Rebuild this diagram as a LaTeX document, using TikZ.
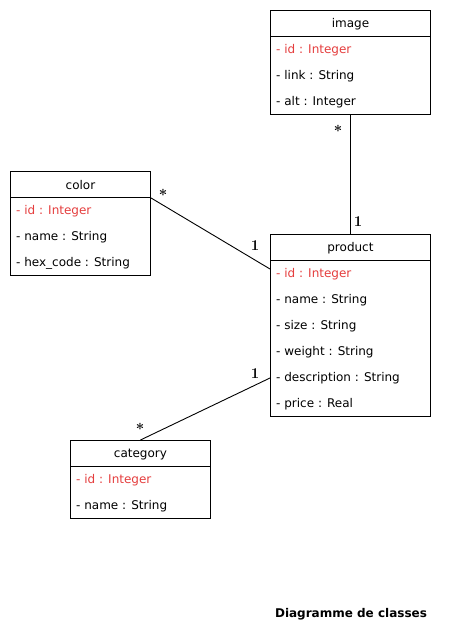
\documentclass[tikz,border=0pt]{standalone}
\usepackage{fontspec}
\setmainfont{DejaVu Sans}
\newfontfamily\multfont{Latin Modern Roman}
\usetikzlibrary{calc}
\definecolor{keyred}{HTML}{E53E3E}
\tikzset{
  classhead/.style={draw, line width=0.9pt, anchor=north west, inner sep=0pt},
  classbody/.style={draw, line width=0.9pt, anchor=north west, inner sep=0pt},
  classname/.style={inner sep=0pt, font=\fontsize{12}{14}\selectfont},
  attr/.style={anchor=west, inner sep=0pt, font=\fontsize{12}{14}\selectfont},
  keyattr/.style={attr, text=keyred},
  mult/.style={inner sep=0pt, font=\multfont\bfseries\fontsize{15}{17}\selectfont},
  assoc/.style={line width=0.9pt},
}
\begin{document}
\begin{tikzpicture}[x=1pt,y=-1pt]
\useasboundingbox (0,0) rectangle (466,635);
\fill[white] (0,0) rectangle (466,635);

% image
\node[classhead, minimum width=160pt, minimum height=26pt] (imgH) at (270,10) {};
\node[classname] (imgN) at ($(imgH.center)+(0,1)$) {image};
\node[classbody, minimum width=160pt, minimum height=78pt] (imgB) at (270,36) {};
\node[keyattr] (img1) at (276,50) {- id : Integer};
\node[attr] (img2) at (276,76) {- link : String};
\node[attr] (img3) at (276,102) {- alt : Integer};

% color
\node[classhead, minimum width=140pt, minimum height=26pt] (colH) at (10,171) {};
\node[classname] (colN) at ($(colH.center)+(0,1)$) {color};
\node[classbody, minimum width=140pt, minimum height=78pt] (colB) at (10,197) {};
\node[keyattr] (col1) at (16,211) {- id : Integer};
\node[attr] (col2) at (16,237) {- name : String};
\node[attr] (col3) at (16,263) {- hex\_code : String};

% product
\node[classhead, minimum width=160pt, minimum height=26pt] (proH) at (270,234) {};
\node[classname] (proN) at ($(proH.center)+(0,1)$) {product};
\node[classbody, minimum width=160pt, minimum height=156pt] (proB) at (270,260) {};
\node[keyattr] (pro1) at (276,274) {- id : Integer};
\node[attr] (pro2) at (276,300) {- name : String};
\node[attr] (pro3) at (276,326) {- size : String};
\node[attr] (pro4) at (276,352) {- weight : String};
\node[attr] (pro5) at (276,378) {- description : String};
\node[attr] (pro6) at (276,404) {- price : Real};

% category
\node[classhead, minimum width=140pt, minimum height=26pt] (catH) at (70,440) {};
\node[classname] (catN) at ($(catH.center)+(0,1)$) {category};
\node[classbody, minimum width=140pt, minimum height=52pt] (catB) at (70,466) {};
\node[keyattr] (cat1) at (76,480) {- id : Integer};
\node[attr] (cat2) at (76,506) {- name : String};

% attachment points on the product's left side
\coordinate (proColor) at ($(proB.north west)+(0,9)$);
\coordinate (proCat) at ($(proB.north west)+(0,118)$);

% associations
\draw[assoc] (imgB.south) -- (proH.north);
\draw[assoc] (colH.south east) -- (proColor);
\draw[assoc] (catH.north) -- (proCat);

% multiplicities
\node[mult] (m1) at (338,131) {*};
\node[mult] (m2) at (358,222) {1};
\node[mult] (m3) at (163,195) {*};
\node[mult] (m4) at (255,246) {1};
\node[mult] (m5) at (255,374) {1};
\node[mult] (m6) at (140,429) {*};

% caption
\node[font=\bfseries\fontsize{12}{14}\selectfont] (title) at (351,614) {Diagramme de classes};
\end{tikzpicture}
\end{document}
